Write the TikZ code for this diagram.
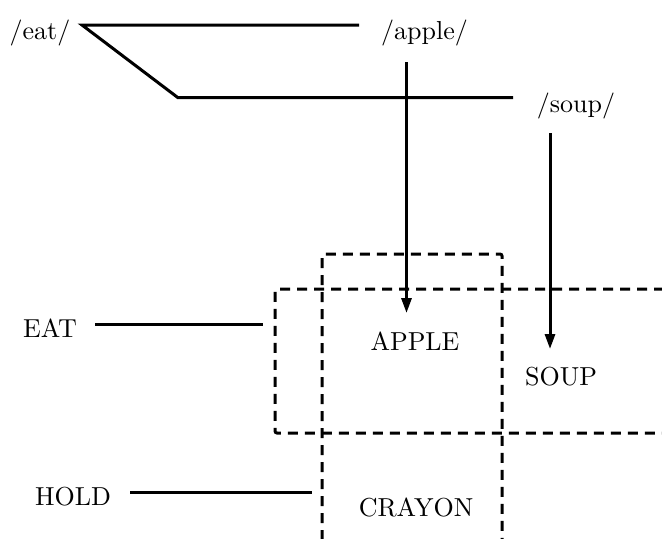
\documentclass[tikz,border=0pt]{standalone}
\usetikzlibrary{arrows.meta}
\begin{document}
\begin{tikzpicture}[x=0.5pt,y=-0.5pt,
  lbl/.style={inner sep=0pt,font=\normalsize,scale=1.3},
  solidline/.style={line width=1.5pt},
  arr/.style={line width=1.5pt,-{Triangle[length=7.5pt,width=5pt]}},
  dbox/.style={line width=1.5pt,dash pattern=on 5pt off 3.5pt,rounded corners=1pt}]
\useasboundingbox (0,0) rectangle (662,538);
% labels
\node[lbl] (eat) at (40,33) {/eat/};
\node[lbl] (apple) at (424.5,32.5) {/apple/};
\node[lbl] (soup) at (576,106) {/soup/};
\node[lbl] (EAT) at (50,328) {EAT};
\node[lbl] (HOLD) at (73,497) {HOLD};
\node[lbl] (APPLE) at (415,341) {APPLE};
\node[lbl] (SOUP) at (561,377) {SOUP};
\node[lbl] (CRAYON) at (416,507) {CRAYON};
% coordinates
\coordinate (t1) at (359,25);
\coordinate (t0) at (82,25);
\coordinate (d1) at (178,97.7);
\coordinate (d2) at (513,97.7);
\coordinate (a0) at (406.5,62);
\coordinate (a1) at (406.5,313);
\coordinate (s0) at (550,133);
\coordinate (s1) at (550,349);
\coordinate (e0) at (95,324);
\coordinate (e1) at (263,324);
\coordinate (h0) at (130,492);
\coordinate (h1) at (312,492);
% solid lines
\draw[solidline,line join=miter] (t1) -- (t0) -- (d1) -- (d2);
\draw[solidline] (e0) -- (e1);
\draw[solidline] (h0) -- (h1);
% arrows
\draw[arr] (a0) -- (a1);
\draw[arr] (s0) -- (s1);
% dashed boxes
\draw[dbox] (322,540) -- (322,254) -- (502,254) -- (502,540);
\draw[dbox] (664,289) -- (275,289) -- (275,433) -- (664,433);
\end{tikzpicture}
\end{document}
